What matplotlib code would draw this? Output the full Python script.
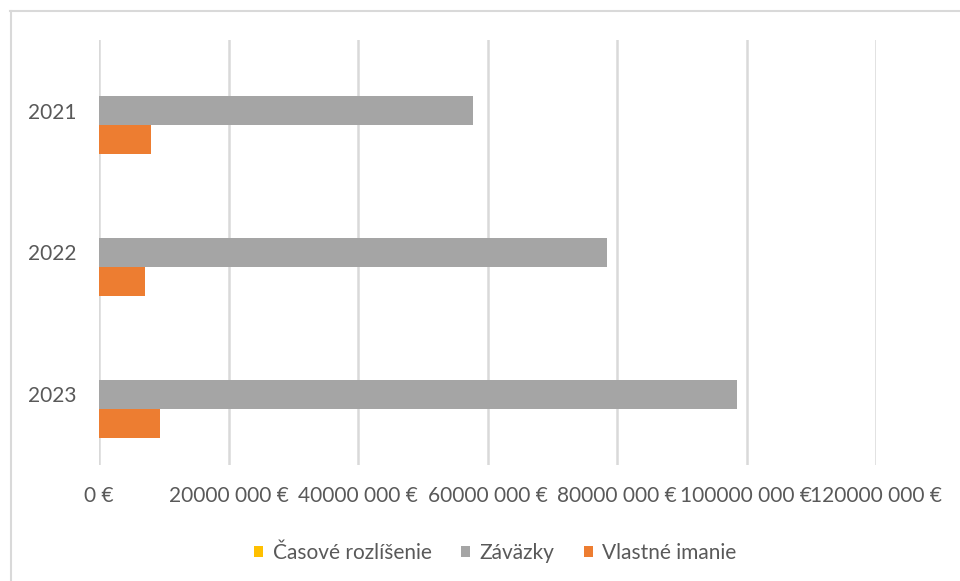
import matplotlib
matplotlib.use("Agg")
import matplotlib.pyplot as plt
from matplotlib.patches import Patch
from matplotlib.lines import Line2D

# data
years = ["2021", "2022", "2023"]
casove = [0, 0, 0]
zavazky = [57800000, 78500000, 98500000]
vlastne = [8000000, 7100000, 9400000]
series_names = ["Časové rozlíšenie", "Záväzky", "Vlastné imanie"]
x_ticks = [0, 20000000, 40000000, 60000000, 80000000, 100000000, 120000000]
x_tick_labels = ["0 €", "20000 000 €", "40000 000 €", "60000 000 €",
                 "80000 000 €", "100000 000 €", "120000 000 €"]

colors = ["#FFC000", "#A5A5A5", "#ED7D31"]
text_col = "#595959"
grid_col = "#D9D9D9"

plt.rcParams["font.family"] = ["Lato", "DejaVu Sans"]

fig = plt.figure(figsize=(9.6, 5.81), dpi=100)
ax = fig.add_axes([99 / 960, 1 - 465 / 581, 777 / 960, 425 / 581])

pos = list(range(len(years)))
h = 0.205
for i, (vals, c) in enumerate(zip([casove, zavazky, vlastne], colors)):
    ax.barh([p + (i - 1) * h for p in pos], vals, height=h, color=c, zorder=3)

ax.set_xlim(0, 120000000)
ax.set_ylim(2.5, -0.5)
ax.set_xticks(x_ticks)
ax.set_xticklabels(x_tick_labels)
ax.set_yticks(pos)
ax.set_yticklabels(years)
ax.tick_params(axis="both", length=0, labelsize=15, labelcolor=text_col)
ax.tick_params(axis="x", pad=15)
ax.tick_params(axis="y", pad=16)
ax.grid(True, axis="x", color=grid_col, linewidth=1.8, zorder=0)
for s in ax.spines.values():
    s.set_visible(False)

# chart border (left and top visible)
fig.add_artist(Line2D([10.5 / 960, 10.5 / 960], [1 - 11 / 581, -0.1],
                      transform=fig.transFigure, color=grid_col, linewidth=1.5))
fig.add_artist(Line2D([10 / 960, 1.1], [1 - 11 / 581, 1 - 11 / 581],
                      transform=fig.transFigure, color=grid_col, linewidth=1.5))

handles = [Patch(facecolor=c, edgecolor="none") for c in colors]
leg = fig.legend(handles, series_names, loc="center", ncol=3,
                 bbox_to_anchor=(0.516, 1 - 553 / 581), frameon=False,
                 fontsize=15, handlelength=0.45, handleheight=0.45,
                 handletextpad=0.45, columnspacing=1.4)
for t in leg.get_texts():
    t.set_color(text_col)

fig.savefig("out.png", dpi=100)
